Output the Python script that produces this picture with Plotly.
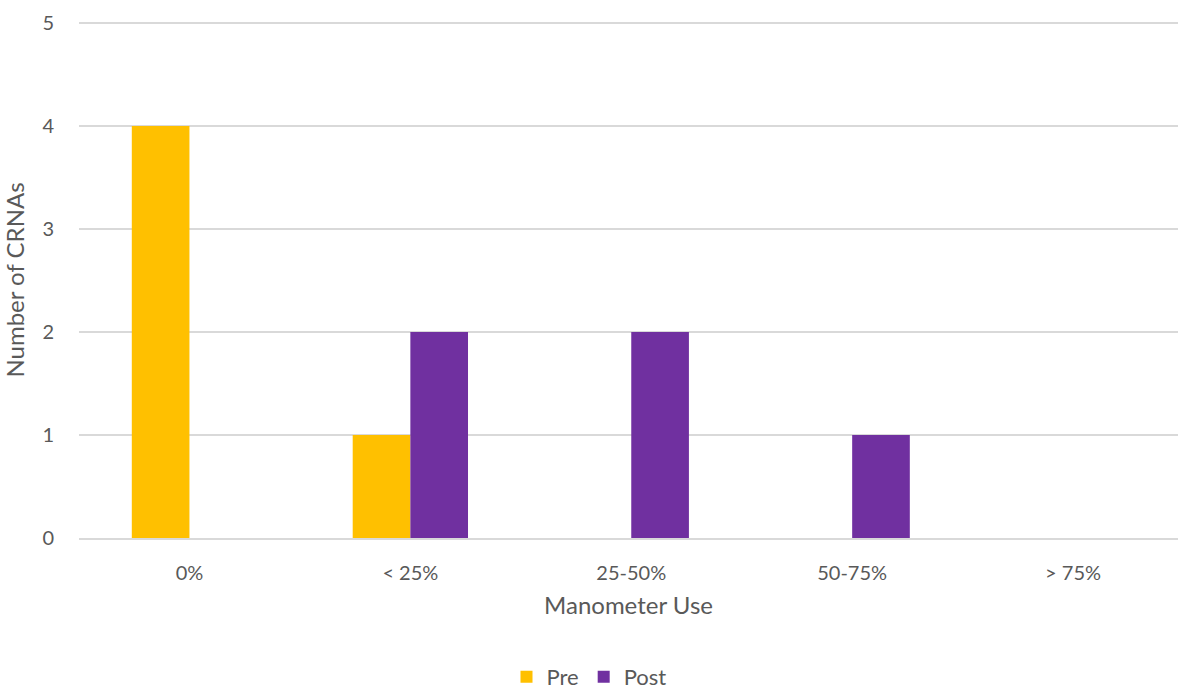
import plotly.graph_objects as go

categories = ["0%", "< 25%", "25-50%", "50-75%", "> 75%"]
pre_values = [4, 1, 0, 0, 0]
post_values = [0, 2, 2, 1, 0]
y_ticks = [0, 1, 2, 3, 4, 5]

font_family = "Lato, 'Open Sans', sans-serif"
text_color = "#595959"

fig = go.Figure()
fig.add_trace(go.Bar(name="Pre", x=categories, y=pre_values, marker_color="#FFC000", marker_line_width=0))
fig.add_trace(go.Bar(name="Post", x=categories, y=post_values, marker_color="#7030A0", marker_line_width=0))

fig.update_layout(
    width=1178, height=689,
    barmode="group", bargap=0.478, bargroupgap=0,
    plot_bgcolor="white", paper_bgcolor="white",
    margin=dict(l=79, r=0, t=22, b=151),
    font=dict(family=font_family, color=text_color, size=20),
    xaxis=dict(
        type="category", range=[-0.5, 4.475],
        title=dict(text="Manometer Use", font=dict(size=24, color=text_color), standoff=14),
        tickfont=dict(size=20, color=text_color),
        showgrid=False, showline=True, linecolor="#d9d9d9", linewidth=1.5,
        ticks="outside", ticklen=16, tickcolor="rgba(0,0,0,0)",
    ),
    yaxis=dict(
        range=[0, 5.01], tickvals=y_ticks,
        title=dict(text="Number of CRNAs", font=dict(size=24, color=text_color), standoff=16),
        tickfont=dict(size=20, color=text_color),
        showgrid=True, gridcolor="#d9d9d9", gridwidth=1.5,
        zeroline=False, showline=False,
        ticks="outside", ticklen=20, tickcolor="rgba(0,0,0,0)",
    ),
    legend=dict(
        orientation="h", x=0.5, xanchor="center", xref="container",
        y=12 / 689, yanchor="middle", yref="container",
        font=dict(size=22, color=text_color), itemwidth=30, traceorder="normal",
    ),
)

fig.write_html("out.html")
